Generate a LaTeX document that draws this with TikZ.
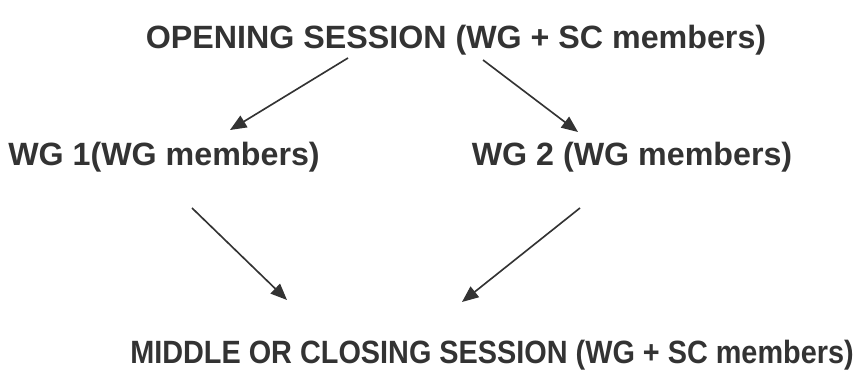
\documentclass[tikz,border=0pt]{standalone}
\usepackage{fontspec}
\setmainfont{Liberation Sans}
\usepackage{xcolor}
\usetikzlibrary{arrows.meta}
\usetikzlibrary{positioning}
\definecolor{inkgray}{HTML}{333333}

\begin{document}
\begin{tikzpicture}[x=0.03cm, y=-0.03cm,
    title/.style={inkgray, font=\bfseries\fontsize{27.5}{30}\selectfont, inner sep=0pt},
    flow/.style={inkgray, line width=1.4pt, -{Triangle[length=14pt, width=11.5pt]}}]
    \useasboundingbox (0,0) rectangle (858,376);
    \node[title] (open) at (456,40) {OPENING SESSION (WG + SC members)};
    \node[title] (wg1) at (164,157) {WG 1(WG members)};
    \node[title] (wg2) at (632,157) {WG 2 (WG members)};
    \node[title] (close) at (492,355) {\scalebox{0.895}[1]{MIDDLE OR CLOSING SESSION (WG + SC members)}};
    % arrow ends
    \coordinate (a1) at (348,58);  \coordinate (b1) at (230,130);
    \coordinate (a2) at (483,60);  \coordinate (b2) at (578,132);
    \coordinate (a3) at (192,208); \coordinate (b3) at (287,300);
    \coordinate (a4) at (580,208); \coordinate (b4) at (462,302);
    \draw[flow] (a1) -- (b1);
    \draw[flow] (a2) -- (b2);
    \draw[flow] (a3) -- (b3);
    \draw[flow] (a4) -- (b4);
\end{tikzpicture}
\end{document}
